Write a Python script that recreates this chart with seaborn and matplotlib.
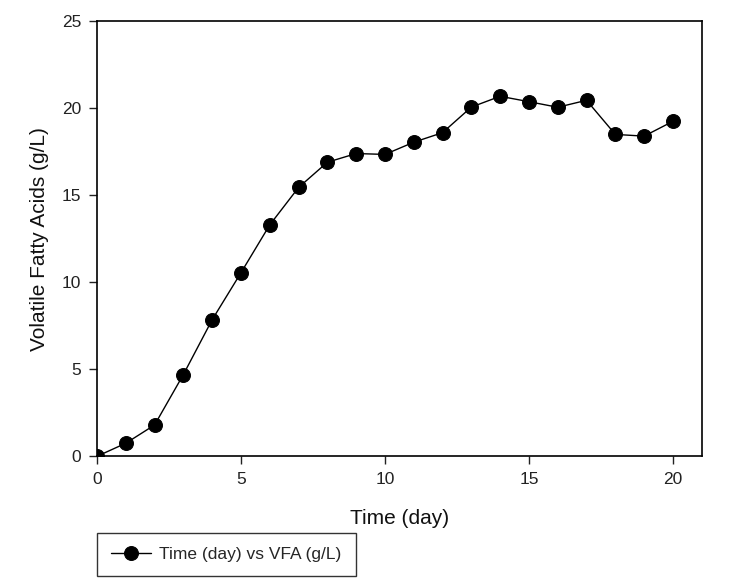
import matplotlib
matplotlib.use("Agg")
import matplotlib.pyplot as plt
import seaborn as sns
import pandas as pd

days = list(range(21))
vfa = [0.0, 0.75, 1.8, 4.7, 7.85, 10.55, 13.3, 15.45, 16.9, 17.4, 17.35,
       18.05, 18.6, 20.07, 20.69, 20.38, 20.06, 20.46, 18.5, 18.4, 19.25]
x_ticks = [0, 5, 10, 15, 20]
y_ticks = [0, 5, 10, 15, 20, 25]

sns.set_theme(style="ticks")
plt.rcParams['font.family'] = ['Liberation Sans', 'DejaVu Sans']

df = pd.DataFrame({"day": days, "vfa": vfa})

fig = plt.figure(figsize=(7.41, 5.84), dpi=100)
ax = fig.add_axes([97/741, 1 - 456.3/584, (701.7 - 97)/741, (456.3 - 21.3)/584])

sns.lineplot(data=df, x="day", y="vfa", ax=ax, color="black", linewidth=1.0,
             marker="o", markersize=10, markeredgecolor="black",
             markerfacecolor="black", label="Time (day) vs VFA (g/L)", legend=False)

ax.set_xlim(0, 21)
ax.set_ylim(0, 25)
ax.set_xticks(x_ticks)
ax.set_yticks(y_ticks)
ax.tick_params(axis="both", labelsize=12.5, colors="#222222", length=5.5, width=1,
               direction="out", top=False, right=False, pad=6)
for s in ax.spines.values():
    s.set_color("black")
    s.set_linewidth(1.2)
    s.set_visible(True)

ax.set_xlabel("Time (day)", fontsize=15, color="#111111", labelpad=16)
ax.set_ylabel("Volatile Fatty Acids (g/L)", fontsize=15, color="#111111", labelpad=9)

handles, labels = ax.get_legend_handles_labels()
leg = fig.legend(handles, labels, loc="upper left",
                 bbox_to_anchor=(97/741, 1 - 533/584), frameon=True,
                 fancybox=False, fontsize=12.5, handlelength=2.3,
                 handletextpad=0.5, borderpad=0.8, borderaxespad=0)
leg.get_frame().set_edgecolor("black")
leg.get_frame().set_linewidth(1.0)

fig.savefig("out.png", dpi=100)
